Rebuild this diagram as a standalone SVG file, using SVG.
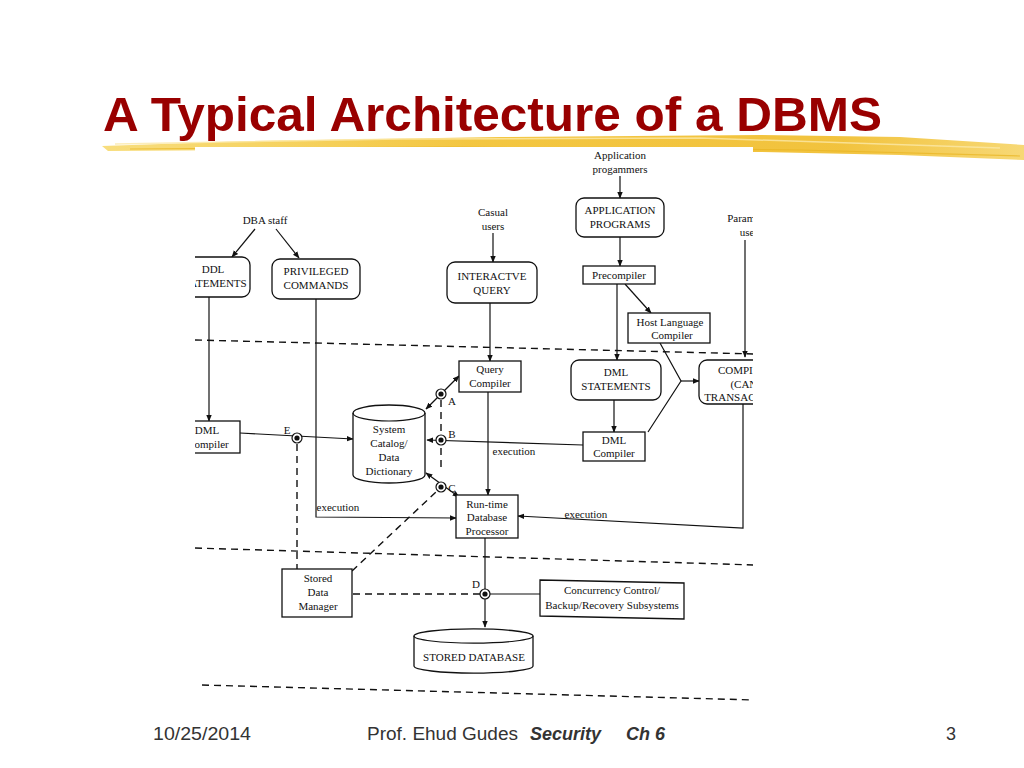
<svg xmlns="http://www.w3.org/2000/svg" width="1024" height="768" viewBox="0 0 1024 768">
<style>
.t{font-family:"Liberation Serif","Times New Roman",serif;font-size:11px;fill:#111;text-anchor:middle}
.ln{fill:none;stroke:#111;stroke-width:1.2}
.box{fill:#fff;stroke:#111;stroke-width:1.3}
.dash{fill:none;stroke:#111;stroke-width:1.4;stroke-dasharray:7 5}
.ft{font-family:"Liberation Sans",Arial,sans-serif;font-size:18px;fill:#333}
</style>
<defs>
<marker id="ah" viewBox="0 0 10 10" refX="9" refY="5" markerWidth="7" markerHeight="7" orient="auto-start-reverse" markerUnits="userSpaceOnUse"><path d="M0,1 L10,5 L0,9 z" fill="#111"/></marker>
<clipPath id="dc"><rect x="195" y="147" width="558" height="563"/></clipPath>
<linearGradient id="hl" x1="0" x2="1" y1="0" y2="0"><stop offset="0" stop-color="#f7da70"/><stop offset="0.4" stop-color="#f2c02c"/><stop offset="0.8" stop-color="#f0bc28"/><stop offset="1" stop-color="#f6d466"/></linearGradient>
</defs>
<rect width="1024" height="768" fill="#fff"/>
<g id="title">
<path d="M102,146 L250,141 L500,137 L760,135 L900,137 L1024,145 L1024,160 L900,155 L760,152 L500,151 L250,150 L108,151 z" fill="url(#hl)" opacity="0.9"/>
<path d="M115,144 L400,139 L700,138 L1000,148" fill="none" stroke="#fbe9a8" stroke-width="1.5" opacity="0.8"/>
<path d="M130,149 L450,147 L800,150 L1020,156" fill="none" stroke="#e8b420" stroke-width="1.2" opacity="0.7"/>
<text x="103" y="131" font-family="Liberation Sans,Arial,sans-serif" font-weight="bold" font-size="48" fill="#990000" textLength="779" lengthAdjust="spacingAndGlyphs">A Typical Architecture of a DBMS</text>
</g>
<g id="diagram" clip-path="url(#dc)">
<rect x="195" y="147" width="558" height="563" fill="#fff"/>
<g id="dashes">
<path class="dash" d="M195,340 L755,354"/>
<path class="dash" d="M195,548 L755,565"/>
<path class="dash" d="M202,685 L755,700"/>
</g>
<g id="connectors">
<path class="ln" d="M620,176 L620,198" marker-end="url(#ah)"/>
<path class="ln" d="M493,233 L493,262" marker-end="url(#ah)"/>
<path class="ln" d="M255,229 L232,257" marker-end="url(#ah)"/>
<path class="ln" d="M276,229 L299,258" marker-end="url(#ah)"/>
<path class="ln" d="M620,237 L620,266" marker-end="url(#ah)"/>
<path class="ln" d="M617,284 L617,360" marker-end="url(#ah)"/>
<path class="ln" d="M625,284 L651,313" marker-end="url(#ah)"/>
<path class="ln" d="M490,303 L490,361" marker-end="url(#ah)"/>
<path class="ln" d="M745,240 L745,357" marker-end="url(#ah)"/>
<path class="ln" d="M660,343 L681,381 L648,432"/>
<path class="ln" d="M681,381 L699,381" marker-end="url(#ah)"/>
<path class="ln" d="M614,400 L614,432" marker-end="url(#ah)"/>
<path class="ln" d="M209,297 L209,421" marker-end="url(#ah)"/>
<path class="ln" d="M240,433 L353,439" marker-end="url(#ah)"/>
<path class="ln" d="M316,299 L316,517 L456,518" marker-end="url(#ah)"/>
<path class="ln" d="M426,409 L459,376" marker-start="url(#ah)" marker-end="url(#ah)"/>
<path class="ln" d="M583,445 L427,440" marker-end="url(#ah)"/>
<path class="ln" d="M426,473 L459,497" marker-start="url(#ah)" marker-end="url(#ah)"/>
<path class="ln" d="M488,392 L488,495" marker-end="url(#ah)"/>
<path class="ln" d="M743,404 L743,528 L518,516" marker-end="url(#ah)"/>
<path class="ln" d="M485,538 L485,627" marker-end="url(#ah)"/>
<path class="ln" d="M485,594 L540,594"/>
<path class="dash" d="M441,400 L441,472" stroke-dasharray="6 4"/>
<path class="dash" d="M297,444 L297,570" stroke-dasharray="6 4"/>
<path class="dash" d="M352,571 L437,491" stroke-dasharray="6 4"/>
<path class="dash" d="M353,594 L480,594"/>
<g id="pointA"><circle cx="441" cy="394" r="5" fill="#fff" stroke="#111" stroke-width="1.2"/><circle cx="441" cy="394" r="2.6" fill="#111"/></g>
<g id="pointB"><circle cx="441" cy="440" r="5" fill="#fff" stroke="#111" stroke-width="1.2"/><circle cx="441" cy="440" r="2.6" fill="#111"/></g>
<g id="pointC"><circle cx="441" cy="487" r="5" fill="#fff" stroke="#111" stroke-width="1.2"/><circle cx="441" cy="487" r="2.6" fill="#111"/></g>
<g id="pointD"><circle cx="485" cy="594" r="5" fill="#fff" stroke="#111" stroke-width="1.2"/><circle cx="485" cy="594" r="2.6" fill="#111"/></g>
<g id="pointE"><circle cx="297" cy="438" r="5" fill="#fff" stroke="#111" stroke-width="1.2"/><circle cx="297" cy="438" r="2.6" fill="#111"/></g>
<text class="t" x="452" y="405">A</text>
<text class="t" x="452" y="438">B</text>
<text class="t" x="452" y="492">C</text>
<text class="t" x="476" y="588">D</text>
<text class="t" x="287" y="434">E</text>
<text class="t" x="338" y="511">execution</text>
<text class="t" x="514" y="455">execution</text>
<text class="t" x="586" y="518">execution</text>
</g>
<g id="app-programmers"><text class="t" x="620" y="159">Application</text><text class="t" x="620" y="173">progammers</text></g>
<g id="casual-users"><text class="t" x="493" y="216">Casual</text><text class="t" x="493" y="230">users</text></g>
<g id="dba-staff"><text class="t" x="265" y="224">DBA staff</text></g>
<g id="parametric-users"><text class="t" x="751" y="222">Parametric</text><text class="t" x="751" y="236">users</text></g>
<g id="application-programs"><rect class="box" x="576" y="198" width="88" height="39" rx="8"/><text class="t" x="620" y="214">APPLICATION</text><text class="t" x="620" y="228">PROGRAMS</text></g>
<g id="interactive-query"><rect class="box" x="447" y="262" width="90" height="41" rx="8"/><text class="t" x="492" y="280">INTERACTVE</text><text class="t" x="492" y="294">QUERY</text></g>
<g id="ddl-statements"><rect class="box" x="165" y="257" width="85" height="40" rx="8"/><text class="t" x="213" y="273">DDL</text><text class="t" x="212" y="287">STATEMENTS</text></g>
<g id="privileged-commands"><rect class="box" x="272" y="259" width="88" height="40" rx="8"/><text class="t" x="316" y="275">PRIVILEGED</text><text class="t" x="316" y="289">COMMANDS</text></g>
<g id="precompiler"><rect class="box" x="583" y="266" width="72" height="18"/><text class="t" x="619" y="279">Precompiler</text></g>
<g id="host-language-compiler"><rect class="box" x="628" y="313" width="82" height="30"/><text class="t" x="670" y="326">Host Language</text><text class="t" x="672" y="339">Compiler</text></g>
<g id="query-compiler"><rect class="box" x="459" y="361" width="62" height="31"/><text class="t" x="490" y="373">Query</text><text class="t" x="490" y="387">Compiler</text></g>
<g id="dml-statements"><rect class="box" x="571" y="360" width="90" height="40" rx="8"/><text class="t" x="616" y="376">DML</text><text class="t" x="616" y="390">STATEMENTS</text></g>
<g id="compiled-transactions"><rect class="box" x="699" y="360" width="95" height="44" rx="8"/><text class="t" x="746" y="374">COMPILED</text><text class="t" x="757" y="388">(CANNED)</text><text class="t" x="746" y="401">TRANSACTIONS</text></g>
<g id="dml-compiler"><rect class="box" x="583" y="432" width="62" height="29"/><text class="t" x="614" y="444">DML</text><text class="t" x="614" y="457">Compiler</text></g>
<g id="ddl-compiler"><rect class="box" x="168" y="421" width="72" height="32"/><text class="t" x="207" y="434">DML</text><text class="t" x="208" y="448">Compiler</text></g>
<g id="system-catalog"><path class="box" d="M353,413 A36,8 0 0 1 425,413 L425,475 A36,8 0 0 1 353,475 Z"/><path class="ln" d="M353,413 A36,8 0 0 0 425,413"/><text class="t" x="389" y="433">System</text><text class="t" x="389" y="447">Catalog/</text><text class="t" x="389" y="461">Data</text><text class="t" x="389" y="475">Dictionary</text></g>
<g id="runtime-processor"><rect class="box" x="456" y="495" width="62" height="43"/><text class="t" x="487" y="508">Run-time</text><text class="t" x="487" y="521">Database</text><text class="t" x="487" y="535">Processor</text></g>
<g id="stored-data-manager"><rect class="box" x="282" y="569" width="70" height="48"/><text class="t" x="318" y="582">Stored</text><text class="t" x="318" y="596">Data</text><text class="t" x="318" y="610">Manager</text></g>
<g id="concurrency-control"><path class="box" d="M540,580 L684,583 L684,619 L540,616 Z"/><text class="t" x="612" y="594">Concurrency Control/</text><text class="t" x="612" y="609">Backup/Recovery Subsystems</text></g>
<g id="stored-database"><path class="box" d="M414,636 A59,7 0 0 1 533,636 L533,666 A59,7 0 0 1 414,666 Z"/><path class="ln" d="M414,636 A59,7 0 0 0 533,636"/><text class="t" x="474" y="661">STORED DATABASE</text></g>
</g>
<g id="footer">
<text class="ft" x="153" y="740" textLength="98" lengthAdjust="spacingAndGlyphs">10/25/2014</text>
<text class="ft" x="367" y="740" textLength="151" lengthAdjust="spacingAndGlyphs">Prof. Ehud Gudes</text>
<text class="ft" y="740" font-weight="bold" font-style="italic"><tspan x="530">Security</tspan><tspan x="626">Ch 6</tspan></text>
<text class="ft" x="946" y="740">3</text>
</g>
</svg>
